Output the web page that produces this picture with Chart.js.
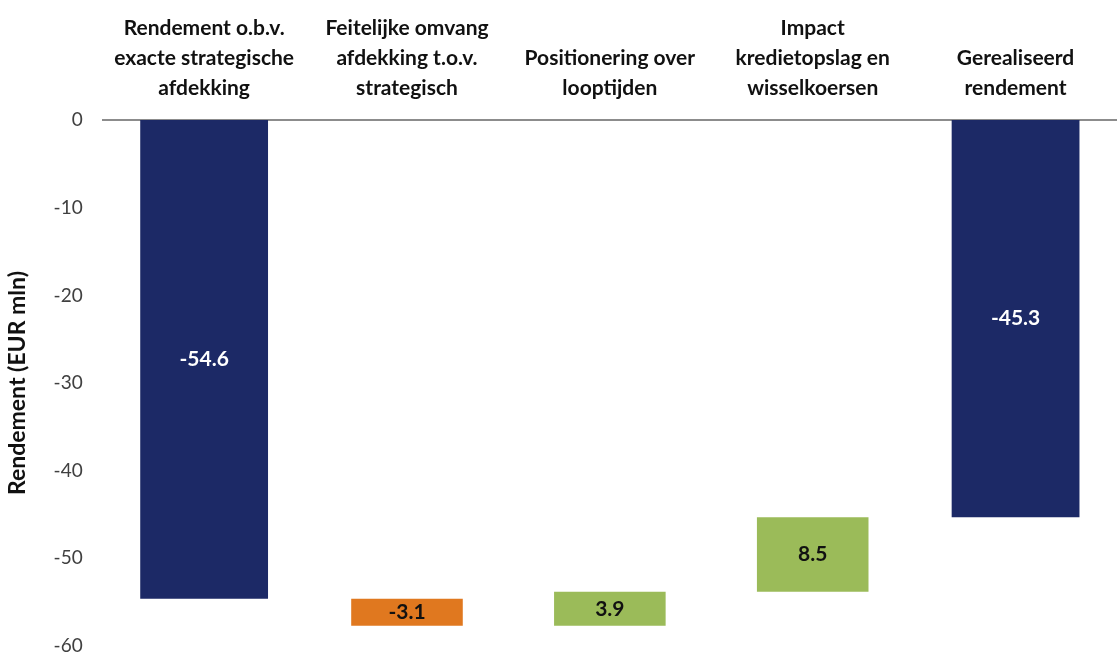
<!DOCTYPE html>
<html>
<head>
<meta charset="utf-8">
<script src="https://cdn.jsdelivr.net/npm/chart.js@4.4.1/dist/chart.umd.min.js"></script>
<style>
  html, body { margin: 0; padding: 0; background: #fff; }
  #wrap { width: 1117px; height: 657px; }
</style>
</head>
<body>
<div id="wrap"><canvas id="chart" width="1117" height="657"></canvas></div>
<script>
// categories (multi-line, as in the source)
const categories = [
  ['Rendement o.b.v.', 'exacte strategische', 'afdekking'],
  ['Feitelijke omvang', 'afdekking t.o.v.', 'strategisch'],
  ['Positionering over', 'looptijden'],
  ['Impact', 'kredietopslag en', 'wisselkoersen'],
  ['Gerealiseerd', 'rendement'],
];
// waterfall values (EUR mln)
const startValue = -54.6;
const stepValues = [-3.1, 3.9, 8.5];
const endValue   = -45.3;
const yTicks     = [0, -10, -20, -30, -40, -50, -60];

const NAVY   = '#1c2966';
const ORANGE = '#e0781f';
const GREEN  = '#9bbb59';

// build floating ranges from the values
let running = startValue;
const stepRanges = stepValues.map(v => {
  const r = [running, running + v];
  running += v;
  return r;
});
const totalData  = [[0, startValue], null, null, null, [0, endValue]];
const stepData   = [null, ...stepRanges, null];
const stepColors = [null, ...stepValues.map(v => v < 0 ? ORANGE : GREEN), null];
const labelText  = [startValue, ...stepValues, endValue].map(v => v.toFixed(1));

// value labels drawn in the middle of each bar
const barLabels = {
  id: 'barLabels',
  afterDatasetsDraw(chart) {
    const { ctx } = chart;
    ctx.save();
    ctx.font = 'bold 21px Lato, sans-serif';
    ctx.textAlign = 'center';
    ctx.textBaseline = 'middle';
    chart.data.datasets.forEach((ds, di) => {
      chart.getDatasetMeta(di).data.forEach((bar, i) => {
        if (!ds.data[i]) return;
        const mid = (bar.y + bar.base) / 2;
        ctx.fillStyle = di === 0 ? '#ffffff' : '#111111';
        ctx.fillText(labelText[i], bar.x, mid);
      });
    });
    ctx.restore();
  },
};

new Chart(document.getElementById('chart'), {
  type: 'bar',
  data: {
    labels: categories,
    datasets: [
      {
        data: totalData,
        backgroundColor: NAVY,
        barPercentage: 0.63,
        categoryPercentage: 1,
        grouped: false,
      },
      {
        data: stepData,
        backgroundColor: stepColors,
        barPercentage: 0.55,
        categoryPercentage: 1,
        grouped: false,
      },
    ],
  },
  options: {
    responsive: false,
    animation: false,
    layout: { padding: { left: 0, right: 0, top: -4, bottom: 0 } },
    plugins: { legend: { display: false }, tooltip: { enabled: false } },
    scales: {
      x: {
        position: 'top',
        grid: { display: false, drawTicks: false },
        border: { display: true, color: '#8c8c8c', width: 2 },
        ticks: {
          color: '#111111',
          padding: 17,
          maxRotation: 0,
          autoSkip: false,
          font: { family: 'Lato, sans-serif', size: 21, weight: 'bold', lineHeight: 1.43 },
        },
      },
      y: {
        min: -60,
        max: 0,
        afterBuildTicks(axis) { axis.ticks = yTicks.map(v => ({ value: v })); },
        // tick padding would otherwise also pad the axis ends
        afterFit(axis) { axis.paddingTop = 0; axis.paddingBottom = 11; },
        grid: { display: false, drawTicks: false },
        border: { display: false },
        ticks: {
          color: '#404040',
          padding: 20,
          font: { family: 'Lato, sans-serif', size: 19 },
        },
        title: {
          display: true,
          text: 'Rendement (EUR mln)',
          color: '#111111',
          padding: { top: 4, bottom: 2 },
          font: { family: 'Lato, sans-serif', size: 23, weight: 'bold' },
        },
      },
    },
  },
  plugins: [barLabels],
});
</script>
</body>
</html>
